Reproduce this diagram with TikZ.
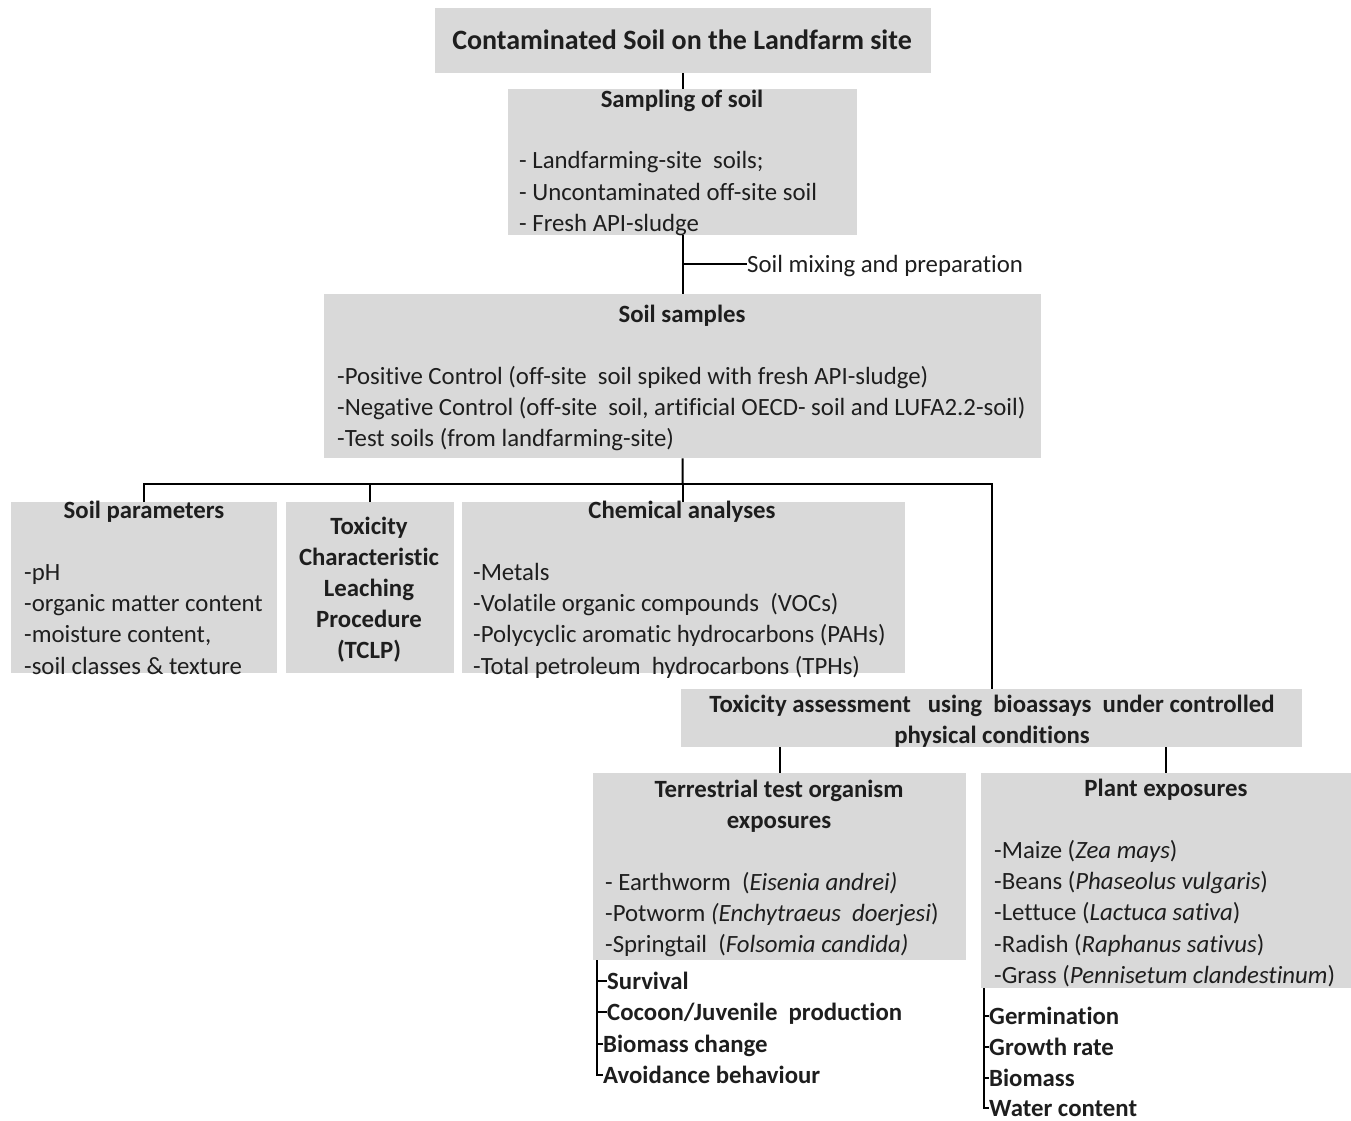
\documentclass[tikz,border=0pt]{standalone}
\usepackage{fontspec}
\setmainfont[Ligatures=NoCommon]{Carlito}
\usetikzlibrary{calc}
\definecolor{boxgray}{RGB}{217,217,217}
\definecolor{ink}{RGB}{30,30,30}
\tikzset{
  box/.style={fill=boxgray, draw=none, anchor=north west, inner sep=0pt},
  txt/.style={inner sep=0pt, text height=21pt, text depth=5pt, text=ink, font=\fontsize{24.8}{29}\selectfont},
  btxt/.style={txt, font=\fontsize{24.8}{29}\selectfont\bfseries},
  lst/.style={txt, anchor=west},
  conn/.style={draw=black, line width=2pt},
}
\begin{document}
\begin{tikzpicture}[x=1pt,y=-1pt]
\useasboundingbox (0,0) rectangle (1351,1120);
% boxes
\node[box, minimum width=496, minimum height=65] (top) at (435,8) {};
\node[box, minimum width=349, minimum height=146] (samp) at (508,89) {};
\node[box, minimum width=717, minimum height=164] (ss) at (324,294) {};
\node[box, minimum width=266, minimum height=171] (sp) at (11,502) {};
\node[box, minimum width=168, minimum height=171] (tc) at (286,502) {};
\node[box, minimum width=443, minimum height=171] (ch) at (462,502) {};
\node[box, minimum width=621, minimum height=58] (ta) at (681,689) {};
\node[box, minimum width=373, minimum height=187] (te) at (593,773) {};
\node[box, minimum width=370, minimum height=215] (pl) at (981,773) {};
% texts
\node[btxt, font=\fontsize{28}{32}\selectfont\bfseries, text height=23pt, text depth=6pt] (toptxt) at (682,41) {Contaminated Soil on the Landfarm site};
\node[btxt] (samptitle) at (682,99) {Sampling of soil};
\node[lst] (samp1) at (519,160) {- Landfarming-site\ \ soils;};
\node[lst] (samp2) at (519,192) {- Uncontaminated off-site soil};
\node[lst] (samp3) at (519,223) {- Fresh API-sludge};
\node[lst] (mix) at (747,264) {Soil mixing and preparation};
\node[btxt] (sstitle) at (682,314) {Soil samples};
\node[lst] (ss1) at (337,376) {-Positive Control (off-site\ \ soil spiked with fresh API-sludge)};
\node[lst] (ss2) at (337,407) {-Negative Control (off-site\ \ soil, artificial OECD- soil and LUFA2.2-soil)};
\node[lst] (ss3) at (337,438) {-Test soils (from landfarming-site)};
\node[btxt] (sptitle) at (144,510) {Soil parameters};
\node[lst] (sp1) at (24,572) {-pH};
\node[lst] (sp2) at (24,603) {-organic matter content};
\node[lst] (sp3) at (24,634) {-moisture content,};
\node[lst] (sp4) at (24,666) {-soil classes \& texture};
\node[btxt] (tc1) at (369,526) {Toxicity};
\node[btxt] (tc2) at (369,557) {Characteristic};
\node[btxt] (tc3) at (369,588) {Leaching};
\node[btxt] (tc4) at (369,619) {Procedure};
\node[btxt] (tc5) at (369,650) {(TCLP)};
\node[btxt] (chtitle) at (682,510) {Chemical analyses};
\node[lst] (ch1) at (473,572) {-Metals};
\node[lst] (ch2) at (473,603) {-Volatile organic compounds\ \ (VOCs)};
\node[lst] (ch3) at (473,634) {-Polycyclic aromatic hydrocarbons\ (PAHs)};
\node[lst] (ch4) at (473,666) {-Total petroleum\ \ hydrocarbons\ (TPHs)};
\node[btxt] (ta1) at (992,704) {Toxicity assessment\ \ \ using\ \ bioassays\ \ under controlled};
\node[btxt] (ta2) at (992,735) {physical conditions};
\node[btxt] (te1) at (779,789) {Terrestrial test organism};
\node[btxt] (te2) at (779,820) {exposures};
\node[lst] (te3) at (605,882) {- Earthworm\ \ (\textit{Eisenia andrei)}};
\node[lst] (te4) at (605,913) {-Potworm \textit{(Enchytraeus\ \ doerjesi})};
\node[lst] (te5) at (605,944) {-Springtail\ \ (\textit{Folsomia candida)}};
\node[btxt] (pltitle) at (1166,788) {Plant exposures};
\node[lst] (pl1) at (994,850) {-Maize (\textit{Zea mays})};
\node[lst] (pl2) at (994,881) {-Beans (\textit{Phaseolus vulgaris})};
\node[lst] (pl3) at (994,912) {-Lettuce (\textit{Lactuca sativa})};
\node[lst] (pl4) at (994,944) {-Radish (\textit{Raphanus sativus})};
\node[lst] (pl5) at (994,975) {-Grass (\textit{Pennisetum clandestinum})};
\node[lst, btxt] (o1) at (607,981) {Survival};
\node[lst, btxt] (o2) at (607,1012) {Cocoon/Juvenile\ \ production};
\node[lst, btxt] (o3) at (603,1044) {Biomass change};
\node[lst, btxt] (o4) at (603,1075) {Avoidance behaviour};
\node[lst, btxt] (p1) at (989,1016) {Germination};
\node[lst, btxt] (p2) at (989,1047) {Growth rate};
\node[lst, btxt] (p3) at (989,1078) {Biomass};
\node[lst, btxt] (p4) at (989,1108) {Water content};
% connectors
\coordinate (bus) at (682.5,484);
\coordinate (mixpt) at (682.5,264);
\coordinate (tb) at (597,960);
\coordinate (pb) at (984,988);
\draw[conn] (top.south -| samp.north) -- (samp.north);
\draw[conn] (samp.south) -- (ss.north);
\draw[conn] (mixpt) -- (mix.west);
\draw[conn] (ss.south) -- (bus);
\draw[conn] (sp.north) |- (bus) -| (ta.north);
\draw[conn] (tc.north) -- (tc.north |- bus);
\draw[conn] (ch.north -| bus) -- (bus);
\draw[conn] (te.north |- ta.south) -- (te.north);
\draw[conn] (pl.north |- ta.south) -- (pl.north);
\draw[conn] (tb) |- (o4.west);
\draw[conn] (o1.west -| tb) -- (o1.west);
\draw[conn] (o2.west -| tb) -- (o2.west);
\draw[conn] (o3.west -| tb) -- (o3.west);
\draw[conn] (pb) |- (p4.west);
\draw[conn] (p1.west -| pb) -- (p1.west);
\draw[conn] (p2.west -| pb) -- (p2.west);
\draw[conn] (p3.west -| pb) -- (p3.west);
\end{tikzpicture}
\end{document}
